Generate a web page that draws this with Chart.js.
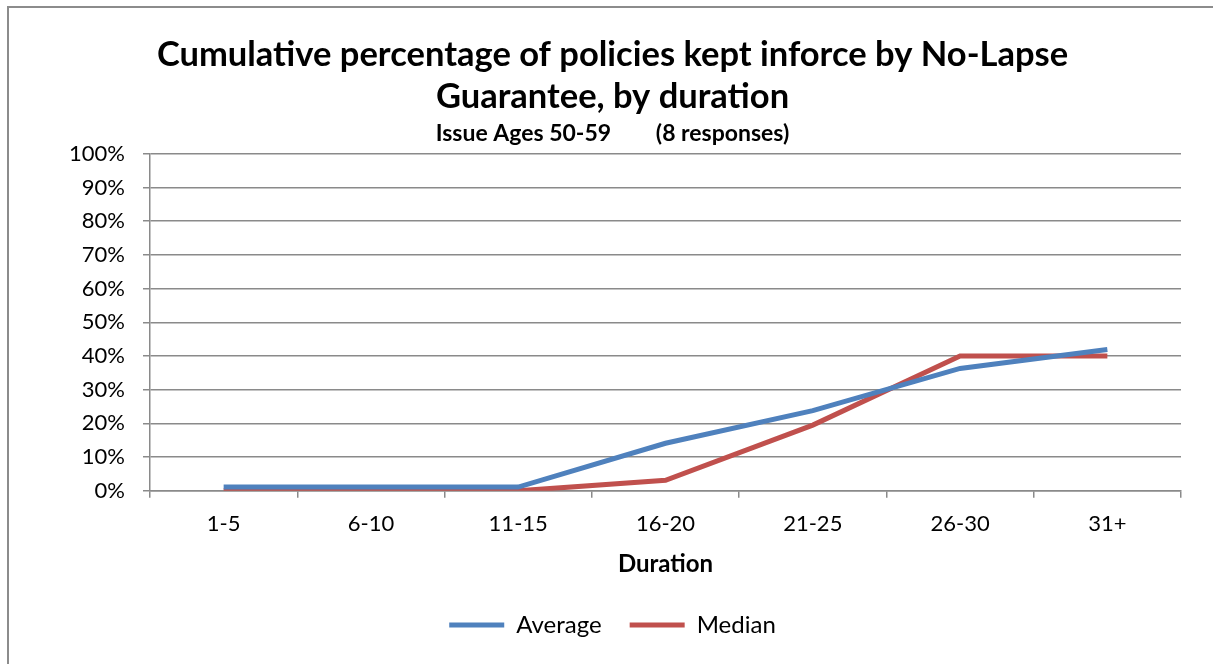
<!DOCTYPE html>
<html>
<head>
<meta charset="utf-8">
<script src="https://cdn.jsdelivr.net/npm/chart.js@4"></script>
<style>
  html, body { margin: 0; padding: 0; background: #fff; }
  #wrap { position: relative; width: 1213px; height: 664px; }
  #frame { position: absolute; left: 7px; top: 6px; width: 1220px; height: 680px; border: 2px solid #8c8c8c; box-sizing: border-box; }
  canvas { position: absolute; left: 0; top: 0; }
</style>
</head>
<body>
<div id="wrap">
  <div id="frame"></div>
  <canvas id="nlgChart" width="1213" height="664"></canvas>
</div>
<script>
// durations and series values (percent)
const durations = ['1-5', '6-10', '11-15', '16-20', '21-25', '26-30', '31+'];
const averageVals = [1.1, 1.1, 1.1, 14.1, 23.8, 36.3, 41.9];
const medianVals = [0, 0, 0, 3.1, 19.5, 40, 40];
const yTicks = [0, 10, 20, 30, 40, 50, 60, 70, 80, 90, 100];

const fontFamily = 'Lato, "Open Sans", sans-serif';
const gridGray = '#8a8a8a';

const ctx = document.getElementById('nlgChart').getContext('2d');
new Chart(ctx, {
  type: 'line',
  data: {
    labels: durations,
    datasets: [
      {
        label: 'Average',
        data: averageVals,
        borderColor: '#4F81BD',
        backgroundColor: '#4F81BD',
        borderWidth: 5,
        pointRadius: 0,
        tension: 0
      },
      {
        label: 'Median',
        data: medianVals,
        borderColor: '#C0504D',
        backgroundColor: '#C0504D',
        borderWidth: 5,
        pointRadius: 0,
        tension: 0
      }
    ]
  },
  options: {
    responsive: false,
    animation: false,
    layout: { padding: { left: 22, right: 10, top: 0, bottom: 17 } },
    plugins: {
      title: {
        display: true,
        text: ['Cumulative percentage of policies kept inforce by No-Lapse', 'Guarantee, by duration'],
        color: '#000',
        font: { family: fontFamily, size: 34.5, weight: 'bold', lineHeight: 1.22 },
        padding: { top: 34, bottom: 2 }
      },
      subtitle: {
        display: true,
        text: 'Issue Ages 50-59        (8 responses)',
        color: '#000',
        font: { family: fontFamily, size: 23, weight: 'bold', lineHeight: 1.2 },
        padding: { top: 0, bottom: 6 }
      },
      legend: {
        position: 'bottom',
        labels: {
          color: '#000',
          font: { family: fontFamily, size: 24 },
          boxWidth: 55,
          boxHeight: 5,
          padding: 28,
          generateLabels: function(chart) {
            const items = Chart.defaults.plugins.legend.labels.generateLabels(chart);
            items.forEach(it => { it.lineWidth = 0; });
            return items;
          }
        }
      },
      tooltip: { enabled: false }
    },
    scales: {
      x: {
        offset: true,
        grid: {
          display: true,
          drawOnChartArea: false,
          offset: true,
          color: gridGray,
          lineWidth: 1.5,
          tickLength: 7
        },
        border: { color: gridGray, width: 1.5 },
        ticks: {
          color: '#000',
          font: { family: fontFamily, size: 22 },
          padding: 13,
          maxRotation: 0
        },
        title: {
          display: true,
          text: 'Duration',
          color: '#000',
          font: { family: fontFamily, size: 24, weight: 'bold' },
          padding: { top: 0, bottom: 6 }
        }
      },
      y: {
        min: 0,
        max: 100,
        afterFit: function(scale) { scale.width = 128; },
        afterBuildTicks: function(scale) { scale.ticks = yTicks.map(v => ({ value: v })); },
        grid: {
          color: gridGray,
          lineWidth: 1.5,
          tickLength: 7
        },
        border: { color: gridGray, width: 1.5 },
        ticks: {
          color: '#000',
          font: { family: fontFamily, size: 22 },
          padding: 18,
          callback: v => v + '%'
        }
      },
      spacer: {
        type: 'linear',
        position: 'right',
        display: true,
        afterFit: function(scale) { scale.width = 22; },
        grid: { display: false },
        border: { display: false },
        ticks: { display: false }
      }
    }
  }
});
</script>
</body>
</html>
